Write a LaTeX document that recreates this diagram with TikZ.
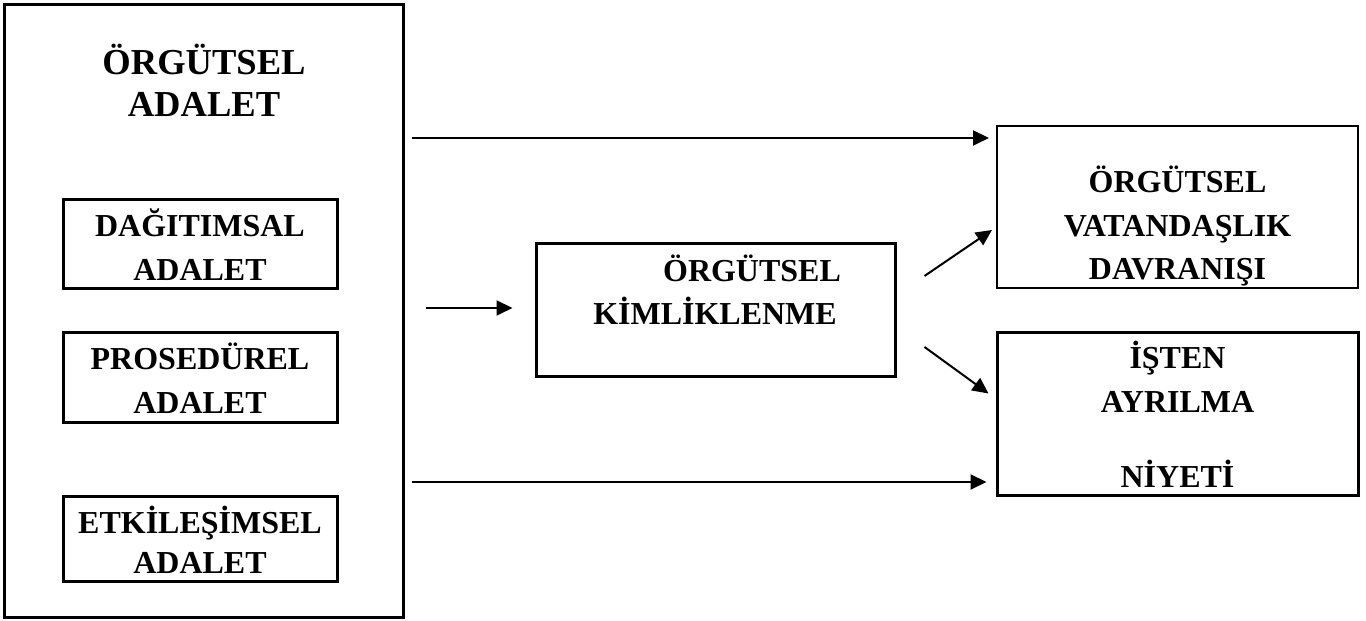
\documentclass[tikz,border=0pt]{standalone}
\usepackage{fontspec}
\setmainfont{Liberation Serif}
\usetikzlibrary{arrows.meta,positioning}

\begin{document}
\begin{tikzpicture}[
    frame/.style={rectangle, draw, line width=0.06cm, inner sep=0pt},
    subbox/.style={frame, minimum width=5.48cm, align=center, font=\fontsize{18.2pt}{25pt}\selectfont\bfseries},
    txt/.style={align=center, inner sep=0pt, font=\fontsize{18.2pt}{25pt}\selectfont\bfseries},
    arrow/.style={-{Triangle[length=0.32cm,width=0.30cm]}, line width=0.04cm}
]
\useasboundingbox (0,0) rectangle (27.32,12.42);

% left block
\node[frame, minimum width=7.96cm, minimum height=12.26cm] (adalet) at (4.08,6.19) {};
\node[txt, anchor=base, font=\fontsize{20.8pt}{23.9pt}\selectfont\bfseries] (ttl) at (4.08,10.08) {ÖRGÜTSEL\\ADALET};
\node[subbox, minimum height=1.78cm] (dag) at (4.00,7.53) {DAĞITIMSAL\\ADALET};
\node[subbox, minimum height=1.80cm] (pro) at (4.00,4.86) {PROSEDÜREL\\ADALET};
\node[subbox, minimum height=1.70cm, font=\fontsize{18.2pt}{22.8pt}\selectfont\bfseries] (etk) at (4.00,1.63) {ETKİLEŞİMSEL\\ADALET};

% mediator
\node[frame, minimum width=7.18cm, minimum height=2.66cm] (kim) at (14.31,6.21) {};
\node[txt, anchor=base] (kimt) at (14.30,5.92) {\hspace*{1.48cm}ÖRGÜTSEL\\KİMLİKLENME};

% outcomes
\node[frame, line width=0.04cm, minimum width=7.22cm, minimum height=3.24cm] (ovd) at (23.55,8.28) {};
\node[txt, anchor=base] (ovdt) at (23.55,6.82) {ÖRGÜTSEL\\VATANDAŞLIK\\DAVRANIŞI};
\node[frame, minimum width=7.22cm, minimum height=3.26cm] (ayr) at (23.55,4.13) {};
\node[txt, anchor=base] (ayrt) at (23.55,2.66) {İŞTEN\\AYRILMA\\[0.64cm]NİYETİ};

% arrows
\coordinate (top) at (8.24,9.66);
\draw[arrow, shorten >=0.14cm] (top) -- (top -| ovd.west);
\coordinate (mid) at (8.52,6.26);
\draw[arrow, shorten >=0.44cm] (mid) -- (mid -| kim.west);
\draw[arrow] ([shift={(0.56,0.69)}]kim.east) -- ([shift={(-0.08,1.18)}]ovd.south west);
\draw[arrow] ([shift={(0.56,-0.73)}]kim.east) -- ([shift={(-0.14,-1.24)}]ayr.north west);
\coordinate (bot) at (8.24,2.78);
\draw[arrow, shorten >=0.18cm] (bot) -- (bot -| ayr.west);
\end{tikzpicture}
\end{document}
